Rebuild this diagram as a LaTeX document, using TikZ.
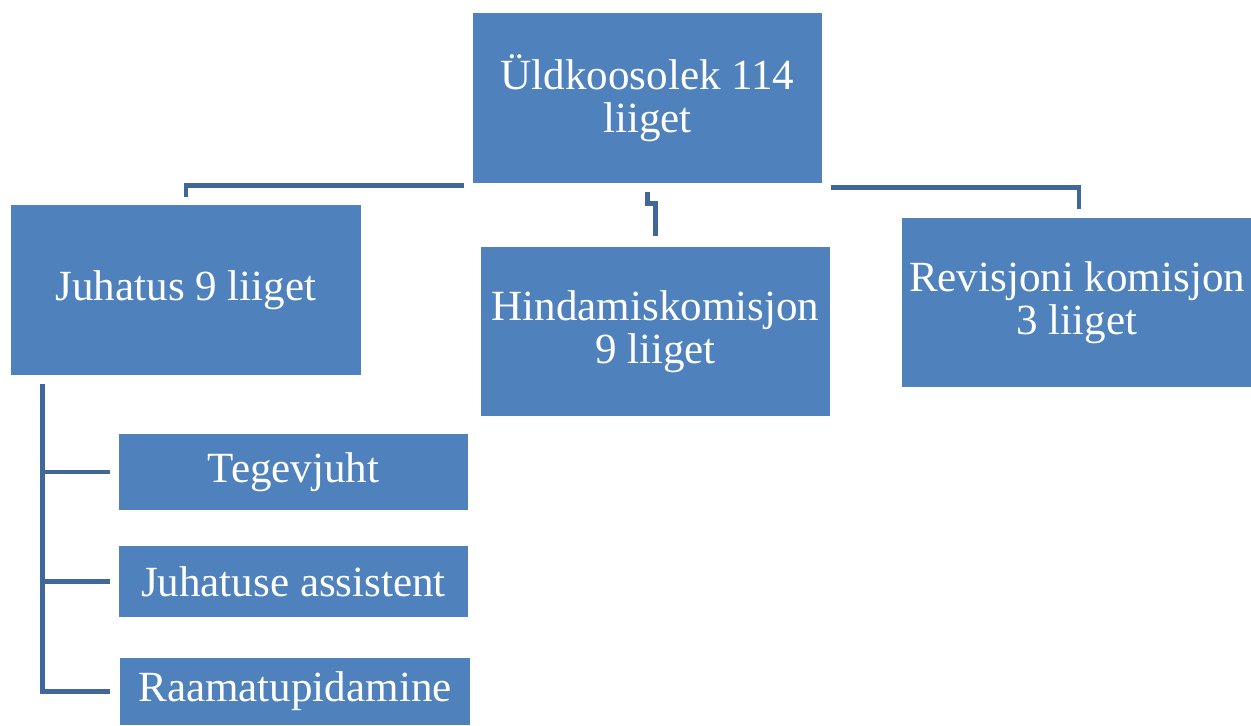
\documentclass[tikz,border=0pt]{standalone}
\usepackage{fontspec}
\setmainfont{Liberation Serif}
\usetikzlibrary{calc}

\definecolor{boxblue}{HTML}{4F81BD}
\definecolor{linkblue}{HTML}{41679A}

\tikzset{
	unit/.style={rectangle, fill=boxblue, text=white, inner sep=0pt,
		align=center, font=\fontsize{24.5}{24.5}\selectfont},
	bigunit/.style={unit, minimum width=7cm, minimum height=3.4cm},
	subunit/.style={unit, minimum width=7cm},
	link/.style={draw=linkblue, line width=2.8pt}
}

\begin{document}
\begin{tikzpicture}[x=0.02cm, y=0.02cm]
	\useasboundingbox (0,0) rectangle (1251,725);

	\node[bigunit] (yld)       at (647.5,627)   {Üldkoosolek 114\\liiget};
	\node[bigunit] (juhatus)   at (186,435)     {Juhatus 9 liiget};
	\node[bigunit] (hindamine) at (655.5,393.5) {Hindamiskomisjon\\9 liiget};
	\node[bigunit] (revisjon)  at (1077,422.5)  {Revisjoni komisjon\\3 liiget};

	\node[subunit, minimum height=1.52cm] (tegevjuht) at (293.5,253)
		{Tegevjuht};
	\node[subunit, minimum height=1.42cm] (assistent) at (293.5,143.5)
		{Juhatuse assistent};
	\node[subunit, minimum height=1.34cm] (raamat)    at (295,33.5)
		{Raamatupidamine};

	% upper level
	\draw[link] ($(yld.south west)+(-8,-2)$) -| ($(juhatus.north)+(0,8)$);
	\draw[link] ($(yld.south)+(0,-9)$) -- ++(0,-11)
		-| ($(hindamine.north)+(0,10)$);
	\draw[link] ($(yld.south east)+(8,-4)$) -| ($(revisjon.north)+(2,8)$);

	% lower level
	\coordinate (trunk) at ($(juhatus.south west)+(32,-9)$);
	\draw[link] (trunk) |- ($(raamat.west)+(-10,0)$);
	\draw[link] (trunk |- tegevjuht.west) -- ($(tegevjuht.west)+(-8,0)$);
	\draw[link] (trunk |- assistent.west) -- ($(assistent.west)+(-8,0)$);
\end{tikzpicture}
\end{document}
